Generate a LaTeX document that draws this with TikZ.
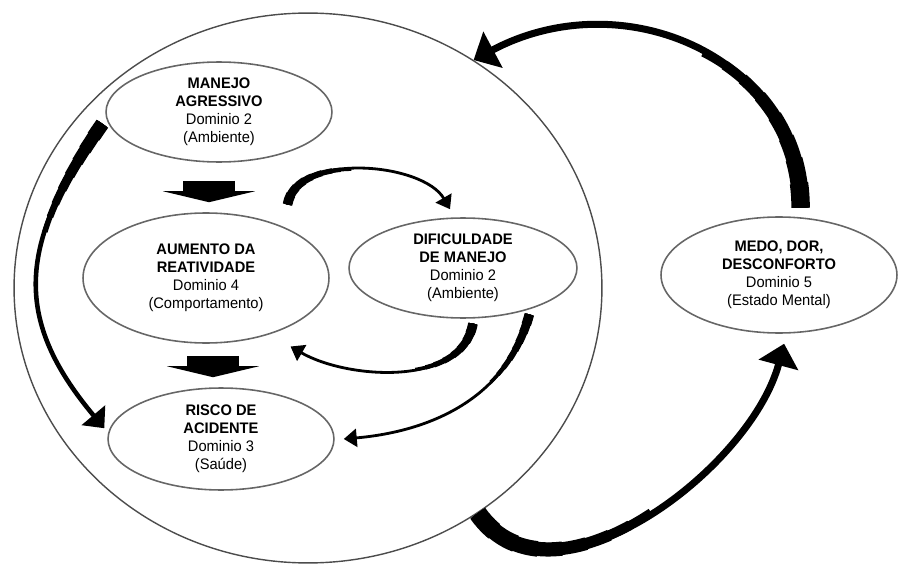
\documentclass[tikz,border=0pt]{standalone}
\usepackage{fontspec}
\setmainfont{Liberation Sans}[FakeStretch=0.96]
\usepackage{tikz}
\usetikzlibrary{arrows.meta, shapes.geometric, calc, positioning}

\begin{document}
\begin{tikzpicture}[x=0.02cm, y=0.02cm,
                        font=\fontsize{8.7}{10.2}\selectfont,
                        dominio/.style={draw=black!60, line width=0.9pt, ellipse, align=center, inner sep=0pt},
                        taper/.style 2 args={preaction={draw, -, line width=#1, dash pattern=on #2 off 2000pt}},
                        blockarrow/.style={line width=1.06cm, -{Triangle[width=1.84cm, length=0.22cm]}},
                        bigarrow/.style={line width=4pt, -{Triangle[width=0.8cm, length=0.44cm]},
                            taper={10.5pt}{14pt}, taper={9.7pt}{28pt}, taper={8.9pt}{41pt}, taper={8.1pt}{55pt},
                            taper={7.3pt}{69pt}, taper={6.5pt}{83pt}, taper={5.7pt}{96pt}, taper={4.9pt}{110pt}},
                        midarrow/.style={line width=2.6pt, -{Triangle[width=0.6cm, length=0.34cm]},
                            taper={8pt}{9pt}, taper={7.3pt}{18pt}, taper={6.6pt}{26pt}, taper={5.9pt}{35pt},
                            taper={5.2pt}{44pt}, taper={4.5pt}{53pt}, taper={3.8pt}{61pt}, taper={3.1pt}{70pt}},
                        smallarrow/.style={line width=1.6pt, -{Triangle[width=0.36cm, length=0.26cm]},
                            taper={5.5pt}{6pt}, taper={5pt}{11pt}, taper={4.5pt}{17pt}, taper={4pt}{22pt},
                            taper={3.5pt}{28pt}, taper={3pt}{34pt}, taper={2.5pt}{39pt}, taper={2pt}{45pt}}]
                        \useasboundingbox (0, 0) rectangle (904, 566);

                        \node[draw=black!70, line width=0.8pt, ellipse, minimum width=11.76cm, minimum height=11cm] (ciclo) at (308, 278) {};

                        \node[dominio, minimum width=4.52cm, minimum height=2cm] (manejo) at (219, 454)
                            {\textbf{MANEJO}\\\textbf{AGRESSIVO}\\Dominio 2\\(Ambiente)};
                        \node[dominio, minimum width=4.92cm, minimum height=2.6cm] (aumento) at (206, 288)
                            {\textbf{AUMENTO DA}\\\textbf{REATIVIDADE}\\Dominio 4\\(Comportamento)};
                        \node[dominio, minimum width=4.52cm, minimum height=2.04cm] (risco) at (221, 127)
                            {\textbf{RISCO DE}\\\textbf{ACIDENTE}\\Dominio 3\\(Saúde)};
                        \node[dominio, minimum width=4.56cm, minimum height=2cm] (dific) at (463, 298)
                            {\textbf{DIFICULDADE}\\\textbf{DE MANEJO}\\Dominio 2\\(Ambiente)};
                        \node[dominio, minimum width=4.72cm, minimum height=2.32cm] (medo) at (779, 291)
                            {\textbf{MEDO, DOR,}\\\textbf{DESCONFORTO}\\Dominio 5\\(Estado Mental)};

                        % ends of the curved arrows
                        \coordinate (s1) at ($(medo.75)+(6,9)$);
                        \coordinate (e2) at ($(medo.-85)+(0,-10)$);
                        \coordinate (s3) at ($(manejo.185)+(-5,-2)$);
                        \coordinate (e3) at ($(risco.175)+(-5,1)$);
                        \coordinate (s5) at ($(aumento.north east)+(-6,27)$);
                        \coordinate (e5) at ($(dific.north)+(-13,8)$);
                        \coordinate (s6) at ($(dific.-80)+(1,-5)$);
                        \coordinate (e6) at ($(aumento.south east)+(-3,-22)$);
                        \coordinate (s7) at ($(dific.-32)+(0,-5)$);
                        \coordinate (e7) at ($(risco.east)+(9,0)$);

                        \draw[blockarrow] ($(manejo.south)+(-10,-18)$) -- ($(aumento.north)+(3,10)$);
                        \draw[blockarrow] ($(aumento.south)+(7,-12)$) -- ($(risco.north)+(-8,10)$);

                        \draw[midarrow] (s3) .. controls +(235:2.9cm) and +(130:2.9cm) .. (e3);
                        \draw[smallarrow] (s5) .. controls +(80:1.08cm) and +(120:1.08cm) .. (e5);
                        \draw[smallarrow] (s6) .. controls +(-100:1.3cm) and +(-30:1.3cm) .. (e6);
                        \draw[smallarrow] (s7) .. controls +(-105:1.74cm) and +(5:1.74cm) .. (e7);

                        \draw[bigarrow] (s1) .. controls +(90:3cm) and +(28:3.4cm) .. (ciclo.54);
                        \draw[bigarrow] (ciclo.-53) .. controls +(-55:2.6cm) and +(-105:2.6cm) .. (e2);
                    \end{tikzpicture}
\end{document}
